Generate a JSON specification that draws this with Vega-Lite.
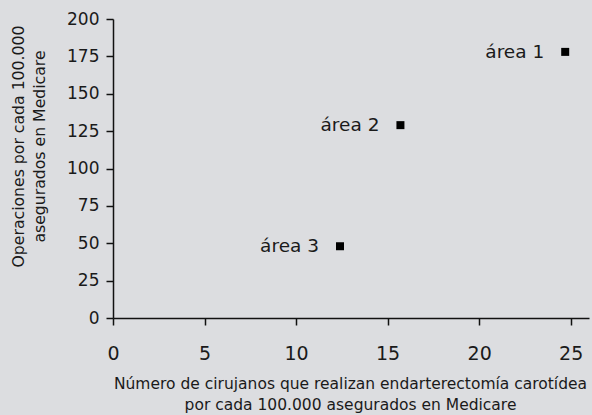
{
  "$schema": "https://vega.github.io/schema/vega-lite/v6.json",
  "autosize": "none",
  "width": 476,
  "height": 299,
  "padding": {"left": 113, "top": 19, "right": 3, "bottom": 97},
  "background": "#dcdde0",
  "config": {
    "view": {"stroke": null},
    "font": "DejaVu Sans",
    "axis": {"grid": false, "domainColor": "#111", "tickColor": "#111", "labelColor": "#1a1a1a", "titleColor": "#1a1a1a", "titleFontWeight": "normal", "labelFont": "DejaVu Sans", "titleFont": "DejaVu Sans", "labelFlush": false}
  },
  "data": {
    "values": [
      {"x": 24.7, "y": 178, "label": "área 1"},
      {"x": 15.7, "y": 129, "label": "área 2"},
      {"x": 12.4, "y": 48, "label": "área 3"}
    ]
  },
  "layer": [
    {
      "mark": {"type": "point", "shape": "square", "filled": true, "color": "#000", "size": 64, "opacity": 1},
      "encoding": {
        "x": {
          "field": "x", "type": "quantitative",
          "scale": {"domain": [0, 26], "nice": false, "zero": true},
          "axis": {
            "values": [0, 5, 10, 15, 20, 25], "labelOverlap": false, "labelFlush": false,
            "labelFontSize": 19, "labelPadding": 19, "tickSize": 7, "domainWidth": 1.5, "tickWidth": 1.5,
            "title": ["Número de cirujanos que realizan  endarterectomía carotídea", "por cada 100.000 asegurados en Medicare"],
            "titleFontSize": 15.5, "titleLineHeight": 21, "titlePadding": 13, "titleAnchor": "middle", "titleX": 237
          }
        },
        "y": {
          "field": "y", "type": "quantitative",
          "scale": {"domain": [0, 200], "nice": false},
          "axis": {
            "values": [0, 25, 50, 75, 100, 125, 150, 175, 200], "labelOverlap": false, "labelFlush": false, "tickCount": 9,
            "labelFontSize": 17, "labelPadding": 7, "tickSize": 7, "domainWidth": 1.5, "tickWidth": 1.5,
            "title": ["Operaciones por cada 100.000", "asegurados en Medicare"],
            "titleFontSize": 15.7, "titleLineHeight": 21, "titlePadding": 19, "titleY": 127, "titleAnchor": "middle"
          }
        }
      }
    },
    {
      "mark": {"type": "text", "align": "right", "baseline": "middle", "dx": -21, "fontSize": 18.5, "color": "#1a1a1a"},
      "encoding": {
        "x": {"field": "x", "type": "quantitative"},
        "y": {"field": "y", "type": "quantitative"},
        "text": {"field": "label"}
      }
    }
  ]
}
